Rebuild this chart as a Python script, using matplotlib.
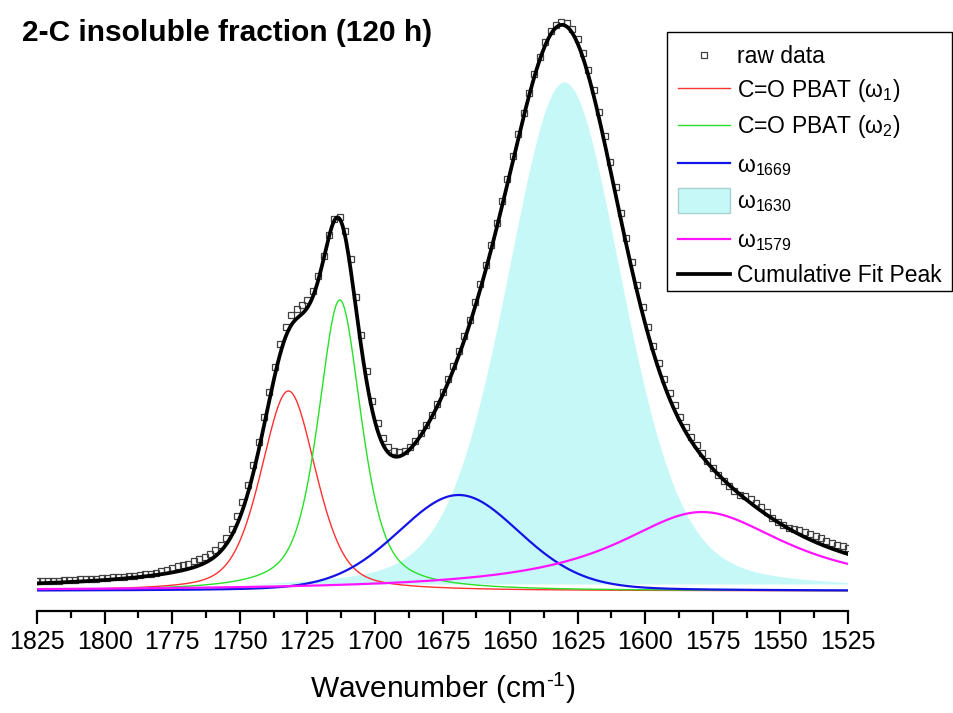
import numpy as np
import matplotlib
matplotlib.use('Agg')
import matplotlib.pyplot as plt
from matplotlib.lines import Line2D
from matplotlib.patches import Rectangle
from matplotlib.ticker import MultipleLocator

plt.rcParams['font.family'] = ['Liberation Sans', 'DejaVu Sans']
plt.rcParams['mathtext.fontset'] = 'custom'
plt.rcParams['mathtext.rm'] = 'Liberation Sans'
plt.rcParams['mathtext.it'] = 'Liberation Sans'
plt.rcParams['mathtext.bf'] = 'Liberation Sans:bold'
plt.rcParams['mathtext.default'] = 'regular'

# ---- data -------------------------------------------------------------
raw_wavenumber = np.arange(1825, 1524, -2)
raw_intensity = [
    10, 10, 10, 10, 10, 11, 11, 11, 12, 12, 12, 12, 13, 13, 14, 14, 14, 15, 15, 16, 17, 17, 18,
    20, 21, 23,
    25, 26, 27, 30, 32, 34, 37, 41, 46,
    53, 62, 75, 89, 106, 126, 149, 174, 199, 224, 247, 264, 276, 282, 286, 291, 300, 315, 335,
    356, 372, 374,
    360, 332, 294, 256, 220, 190, 168, 153, 144, 140, 139, 140, 144, 150, 158, 166, 176, 187,
    199, 212, 225,
    240, 255, 271, 289, 307, 326, 346, 368, 390, 412, 435, 457, 478, 498, 517, 534, 549, 560,
    566, 569, 568, 562, 552, 538, 521, 501,
    479, 455, 429, 404, 378, 353, 329, 306, 284, 264, 245, 228, 212, 198, 186, 174, 164, 154,
    146, 138, 130, 123, 116, 110, 105, 100,
    96, 95, 92, 88, 84, 79, 73, 69, 66, 63, 62, 61, 59, 57, 55, 53, 50, 48, 46, 45, 43,
]

# fitted peak parameters (intensity in arbitrary units)
peak_labels = ["C=O PBAT ($\\omega_1$)", "C=O PBAT ($\\omega_2$)",
               "$\\omega_{1669}$", "$\\omega_{1630}$", "$\\omega_{1579}$"]
peak_centers = [1732, 1713, 1669, 1630, 1579]
peak_heights = [200, 291, 96, 509, 79]
peak_fwhm = [24, 19, 54, 51, 78]
peak_lorentz_frac = [0.4, 0.6, 0.2, 0.3, 1.0]
xticks = [1825, 1800, 1775, 1750, 1725, 1700, 1675, 1650, 1625, 1600, 1575, 1550, 1525]


def pvoigt(x, c, h, w, eta):
    g = np.exp(-4 * np.log(2) * ((x - c) / w) ** 2)
    l = 1.0 / (1.0 + 4 * ((x - c) / w) ** 2)
    return h * (eta * l + (1 - eta) * g)


x = np.linspace(1825, 1525, 1201)
comps = [pvoigt(x, c, h, w, e) for c, h, w, e in
         zip(peak_centers, peak_heights, peak_fwhm, peak_lorentz_frac)]
cum = np.sum(comps, axis=0)

# ---- figure -----------------------------------------------------------
W, H = 954, 713
fig = plt.figure(figsize=(W / 100, H / 100), dpi=100)
ax = fig.add_axes([37 / W, (H - 611) / H, (848 - 37) / W, 611 / H])
ax.set_xlim(1825, 1525)
ax.set_ylim(-20, 591)

colors = ['#ff3030', '#28e028', '#1414e6', '#c6f8f8', '#ff14ff']
widths = [1.0, 1.0, 1.6, 0, 1.6]
marker_kw = dict(ls='none', marker='s', ms=5.0, mfc='none', mec='#404040', mew=0.9)

ax.fill_between(x, 7, comps[3], where=comps[3] > 7, color=colors[3], lw=0, zorder=1)
for i in [0, 1, 2, 4]:
    ax.plot(x, comps[i], color=colors[i], lw=widths[i], zorder=2)
ax.plot(raw_wavenumber, raw_intensity, zorder=3, **marker_kw)
ax.plot(x, cum, color='black', lw=2.7, zorder=4)

for s in ['left', 'right', 'top']:
    ax.spines[s].set_visible(False)
ax.spines['bottom'].set_linewidth(1.6)
ax.set_yticks([])
ax.set_xticks(xticks)
ax.xaxis.set_minor_locator(MultipleLocator(12.5))
ax.tick_params(axis='x', which='major', direction='out', length=9.5, width=1.6,
               labelsize=18, pad=4)
ax.tick_params(axis='x', which='minor', direction='out', length=5, width=1.6)
ax.set_xlabel('Wavenumber (cm$^{\\text{-1}}$)', fontsize=21.5, labelpad=12)

fig.text(22 / W, 1 - 33 / H, '2-C insoluble fraction (120 h)', fontsize=21.5,
         fontweight='bold', va='center', ha='left')

# ---- legend (drawn in figure pixel coordinates) -------------------------
def fx(px):
    return px / W


def fy(py):
    return 1 - py / H


fig.patches.append(Rectangle((fx(667), fy(291)), fx(952) - fx(667), fy(32) - fy(291),
                             transform=fig.transFigure, fill=True, facecolor='white',
                             edgecolor='black', lw=1.0, zorder=5))
hx0, hx1, tx = 678, 730, 737
legend_rows = [  # (handle y, text baseline y)
    (55, 63.3), (88.3, 96.7), (125, 133.3), (163.3, 171.7), (200.5, 208.3),
    (239, 246.7), (274, 281.7)]
legend_labels = ['raw data'] + peak_labels + ['Cumulative Fit Peak']
for k, (hy, by) in enumerate(legend_rows):
    if k == 0:
        fig.add_artist(Line2D([fx((hx0 + hx1) / 2)], [fy(hy)], transform=fig.transFigure,
                              zorder=6, **marker_kw))
    elif k == 4:
        fig.patches.append(Rectangle((fx(hx0), fy(213)), fx(hx1) - fx(hx0), fy(188) - fy(213),
                                     transform=fig.transFigure, facecolor=colors[3],
                                     edgecolor='#a8d0d0', lw=1.0, zorder=6))
    elif k == 6:
        fig.add_artist(Line2D([fx(hx0), fx(hx1)], [fy(hy), fy(hy)], color='black', lw=2.7,
                              transform=fig.transFigure, zorder=6))
    else:
        i = k - 1
        fig.add_artist(Line2D([fx(hx0), fx(hx1)], [fy(hy), fy(hy)], color=colors[i],
                              lw=widths[i], transform=fig.transFigure, zorder=6))
    fig.text(fx(tx), fy(by), legend_labels[k], fontsize=16.5, va='baseline', ha='left',
             zorder=7)

fig.savefig('out.png', dpi=100)
